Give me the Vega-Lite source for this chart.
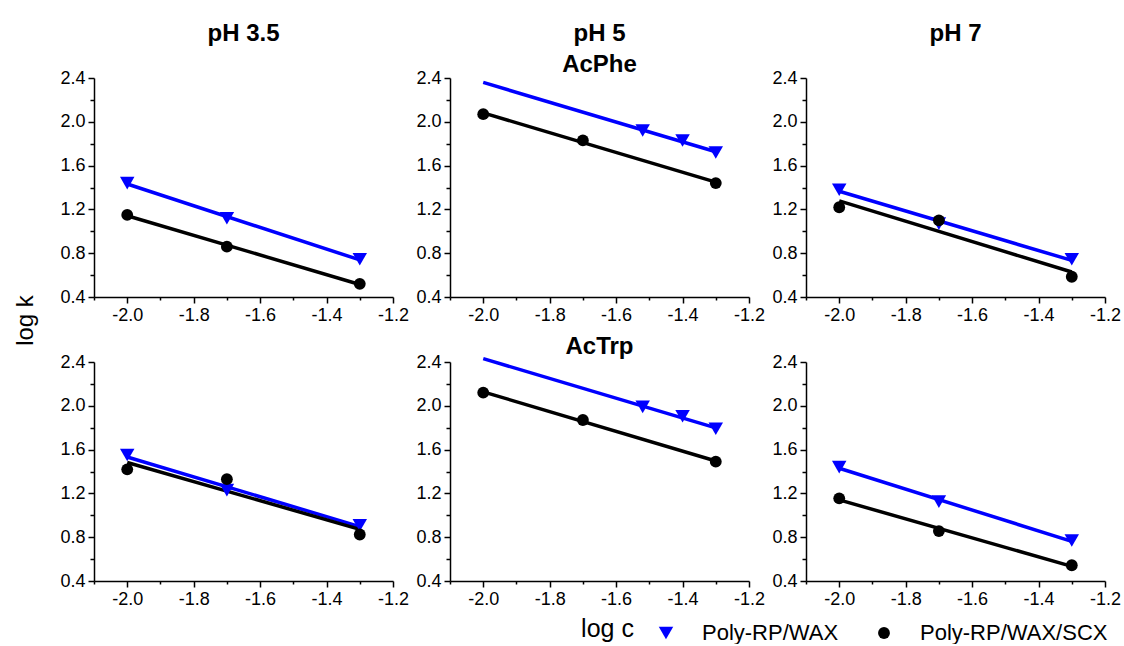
{
  "$schema": "https://vega.github.io/schema/vega-lite/v6.json",
  "padding": {"left": 13, "top": 22, "right": 0, "bottom": 0},
  "background": "white",
  "config": {
    "font": "Liberation Sans",
    "view": {"stroke": null},
    "axis": {
      "grid": false,
      "domainColor": "#000000",
      "domainWidth": 1.5,
      "tickColor": "#000000",
      "tickWidth": 1.5,
      "labelFont": "Liberation Sans",
      "labelFontSize": 18,
      "labelColor": "#000000",
      "labelPadding": 3,
      "labelFlush": false,
      "labelOverlap": false,
      "labelBound": false,
      "titleFont": "Liberation Sans",
      "titleColor": "#000000",
      "titleFontWeight": "normal"
    },
    "legend": {
      "labelFont": "Liberation Sans",
      "labelFontSize": 22,
      "labelColor": "#000000",
      "labelLimit": 400,
      "symbolSize": 150,
      "labelOffset": 25,
      "columnPadding": 34,
      "padding": 0,
      "symbolStrokeWidth": 0
    },
    "title": {
      "font": "Liberation Sans",
      "fontSize": 24,
      "fontWeight": "bold",
      "color": "#000000",
      "frame": "group",
      "anchor": "middle",
      "baseline": "alphabetic"
    }
  },
  "data": {
    "values": [
      {"panel": "AcPhe 3.5", "series": "Poly-RP/WAX", "x": -2.0, "y": 1.44},
      {"panel": "AcPhe 3.5", "series": "Poly-RP/WAX", "x": -1.7, "y": 1.12},
      {"panel": "AcPhe 3.5", "series": "Poly-RP/WAX", "x": -1.3, "y": 0.745},
      {"panel": "AcPhe 3.5", "series": "Poly-RP/WAX/SCX", "x": -2.0, "y": 1.15},
      {"panel": "AcPhe 3.5", "series": "Poly-RP/WAX/SCX", "x": -1.7, "y": 0.86},
      {"panel": "AcPhe 3.5", "series": "Poly-RP/WAX/SCX", "x": -1.3, "y": 0.52},
      {"panel": "AcPhe 5", "series": "Poly-RP/WAX", "x": -1.52, "y": 1.92},
      {"panel": "AcPhe 5", "series": "Poly-RP/WAX", "x": -1.40, "y": 1.83},
      {"panel": "AcPhe 5", "series": "Poly-RP/WAX", "x": -1.30, "y": 1.72},
      {"panel": "AcPhe 5", "series": "Poly-RP/WAX/SCX", "x": -2.0, "y": 2.07},
      {"panel": "AcPhe 5", "series": "Poly-RP/WAX/SCX", "x": -1.7, "y": 1.83},
      {"panel": "AcPhe 5", "series": "Poly-RP/WAX/SCX", "x": -1.3, "y": 1.44},
      {"panel": "AcPhe 7", "series": "Poly-RP/WAX", "x": -2.0, "y": 1.38},
      {"panel": "AcPhe 7", "series": "Poly-RP/WAX", "x": -1.7, "y": 1.07},
      {"panel": "AcPhe 7", "series": "Poly-RP/WAX", "x": -1.3, "y": 0.745},
      {"panel": "AcPhe 7", "series": "Poly-RP/WAX/SCX", "x": -2.0, "y": 1.22},
      {"panel": "AcPhe 7", "series": "Poly-RP/WAX/SCX", "x": -1.7, "y": 1.10},
      {"panel": "AcPhe 7", "series": "Poly-RP/WAX/SCX", "x": -1.3, "y": 0.585},
      {"panel": "AcTrp 3.5", "series": "Poly-RP/WAX", "x": -2.0, "y": 1.55},
      {"panel": "AcTrp 3.5", "series": "Poly-RP/WAX", "x": -1.7, "y": 1.23},
      {"panel": "AcTrp 3.5", "series": "Poly-RP/WAX", "x": -1.3, "y": 0.91},
      {"panel": "AcTrp 3.5", "series": "Poly-RP/WAX/SCX", "x": -2.0, "y": 1.42},
      {"panel": "AcTrp 3.5", "series": "Poly-RP/WAX/SCX", "x": -1.7, "y": 1.33},
      {"panel": "AcTrp 3.5", "series": "Poly-RP/WAX/SCX", "x": -1.3, "y": 0.825},
      {"panel": "AcTrp 5", "series": "Poly-RP/WAX", "x": -1.52, "y": 1.99},
      {"panel": "AcTrp 5", "series": "Poly-RP/WAX", "x": -1.40, "y": 1.905},
      {"panel": "AcTrp 5", "series": "Poly-RP/WAX", "x": -1.30, "y": 1.79},
      {"panel": "AcTrp 5", "series": "Poly-RP/WAX/SCX", "x": -2.0, "y": 2.12},
      {"panel": "AcTrp 5", "series": "Poly-RP/WAX/SCX", "x": -1.7, "y": 1.87},
      {"panel": "AcTrp 5", "series": "Poly-RP/WAX/SCX", "x": -1.3, "y": 1.49},
      {"panel": "AcTrp 7", "series": "Poly-RP/WAX", "x": -2.0, "y": 1.44},
      {"panel": "AcTrp 7", "series": "Poly-RP/WAX", "x": -1.7, "y": 1.125},
      {"panel": "AcTrp 7", "series": "Poly-RP/WAX", "x": -1.3, "y": 0.77},
      {"panel": "AcTrp 7", "series": "Poly-RP/WAX/SCX", "x": -2.0, "y": 1.155},
      {"panel": "AcTrp 7", "series": "Poly-RP/WAX/SCX", "x": -1.7, "y": 0.856},
      {"panel": "AcTrp 7", "series": "Poly-RP/WAX/SCX", "x": -1.3, "y": 0.544}
    ]
  },
  "columns": 3,
  "spacing": {"row": 65, "column": 57},
  "bounds": "flush",
  "concat": [
    {
      "width": 299, "height": 219,
      "title": {"text": "pH 3.5", "offset": 23},
      "transform": [{"filter": "datum.panel == 'AcPhe 3.5'"}],
      "encoding": {
        "x": {"field": "x", "type": "quantitative", "scale": {"domain": [-2.1, -1.2], "nice": false, "zero": false},
              "axis": {"title": null, "labelOverlap": false, "values": [-2.1, -2.0, -1.9, -1.8, -1.7, -1.6, -1.5, -1.4, -1.3, -1.2],
                       "labelExpr": "round(abs(datum.value)*10) % 2 == 1 ? '' : (datum.value < 0 ? '-' : '') + format(abs(datum.value), '.1f')",
                       "tickSize": {"condition": {"test": "round(abs(datum.value)*10) % 2 == 1", "value": 3}, "value": 6}}},
        "y": {"field": "y", "type": "quantitative", "scale": {"domain": [0.4, 2.4], "nice": false, "zero": false},
              "axis": {"title": null, "labelOverlap": false, "values": [0.4, 0.6, 0.8, 1.0, 1.2, 1.4, 1.6, 1.8, 2.0, 2.2, 2.4],
                       "labelExpr": "round(datum.value*10) % 4 == 2 ? '' : format(datum.value, '.1f')",
                       "tickSize": {"condition": {"test": "round(datum.value*10) % 4 == 2", "value": 4}, "value": 6}}}
      },
      "layer": [
        {"transform": [{"filter": "datum.series == 'Poly-RP/WAX'"}, {"regression": "y", "on": "x", "extent": [-2.0, -1.3]}],
         "mark": {"type": "line", "strokeWidth": 3.5, "color": "#0000ff"}},
        {"transform": [{"filter": "datum.series == 'Poly-RP/WAX/SCX'"}, {"regression": "y", "on": "x", "extent": [-2.0, -1.3]}],
         "mark": {"type": "line", "strokeWidth": 3.5, "color": "#000000"}},
        {
          "mark": {"type": "point", "filled": true, "opacity": 1},
          "encoding": {
            "color": {"field": "series", "type": "nominal", "scale": {"domain": ["Poly-RP/WAX", "Poly-RP/WAX/SCX"], "range": ["#0000ff", "#000000"]},
                      "legend": {"orient": "none", "legendX": 561, "legendY": 544, "direction": "horizontal", "title": null}},
            "shape": {"field": "series", "type": "nominal", "scale": {"domain": ["Poly-RP/WAX", "Poly-RP/WAX/SCX"], "range": ["triangle-down", "circle"]},
                      "legend": {"orient": "none", "legendX": 561, "legendY": 544, "direction": "horizontal", "title": null}},
            "size": {"field": "series", "type": "ordinal", "scale": {"domain": ["Poly-RP/WAX", "Poly-RP/WAX/SCX"], "range": [210, 140]}, "legend": null}
          }
        }
      ]
    },
    {
      "width": 299, "height": 219,
      "title": {"text": ["pH 5", "AcPhe"], "lineHeight": 31, "offset": -8},
      "transform": [{"filter": "datum.panel == 'AcPhe 5'"}],
      "encoding": {
        "x": {"field": "x", "type": "quantitative", "scale": {"domain": [-2.1, -1.2], "nice": false, "zero": false},
              "axis": {"title": null, "labelOverlap": false, "values": [-2.1, -2.0, -1.9, -1.8, -1.7, -1.6, -1.5, -1.4, -1.3, -1.2],
                       "labelExpr": "round(abs(datum.value)*10) % 2 == 1 ? '' : (datum.value < 0 ? '-' : '') + format(abs(datum.value), '.1f')",
                       "tickSize": {"condition": {"test": "round(abs(datum.value)*10) % 2 == 1", "value": 3}, "value": 6}}},
        "y": {"field": "y", "type": "quantitative", "scale": {"domain": [0.4, 2.4], "nice": false, "zero": false},
              "axis": {"title": null, "labelOverlap": false, "values": [0.4, 0.6, 0.8, 1.0, 1.2, 1.4, 1.6, 1.8, 2.0, 2.2, 2.4],
                       "labelExpr": "round(datum.value*10) % 4 == 2 ? '' : format(datum.value, '.1f')",
                       "tickSize": {"condition": {"test": "round(datum.value*10) % 4 == 2", "value": 4}, "value": 6}}}
      },
      "layer": [
        {"transform": [{"filter": "datum.series == 'Poly-RP/WAX'"}, {"regression": "y", "on": "x", "extent": [-2.0, -1.3]}],
         "mark": {"type": "line", "strokeWidth": 3.5, "color": "#0000ff"}},
        {"transform": [{"filter": "datum.series == 'Poly-RP/WAX/SCX'"}, {"regression": "y", "on": "x", "extent": [-2.0, -1.3]}],
         "mark": {"type": "line", "strokeWidth": 3.5, "color": "#000000"}},
        {
          "mark": {"type": "point", "filled": true, "opacity": 1},
          "encoding": {
            "color": {"field": "series", "type": "nominal", "scale": {"domain": ["Poly-RP/WAX", "Poly-RP/WAX/SCX"], "range": ["#0000ff", "#000000"]},
                      "legend": {"orient": "none", "legendX": 561, "legendY": 544, "direction": "horizontal", "title": null}},
            "shape": {"field": "series", "type": "nominal", "scale": {"domain": ["Poly-RP/WAX", "Poly-RP/WAX/SCX"], "range": ["triangle-down", "circle"]},
                      "legend": {"orient": "none", "legendX": 561, "legendY": 544, "direction": "horizontal", "title": null}},
            "size": {"field": "series", "type": "ordinal", "scale": {"domain": ["Poly-RP/WAX", "Poly-RP/WAX/SCX"], "range": [210, 140]}, "legend": null}
          }
        }
      ]
    },
    {
      "width": 299, "height": 219,
      "title": {"text": "pH 7", "offset": 23},
      "transform": [{"filter": "datum.panel == 'AcPhe 7'"}],
      "encoding": {
        "x": {"field": "x", "type": "quantitative", "scale": {"domain": [-2.1, -1.2], "nice": false, "zero": false},
              "axis": {"title": null, "labelOverlap": false, "values": [-2.1, -2.0, -1.9, -1.8, -1.7, -1.6, -1.5, -1.4, -1.3, -1.2],
                       "labelExpr": "round(abs(datum.value)*10) % 2 == 1 ? '' : (datum.value < 0 ? '-' : '') + format(abs(datum.value), '.1f')",
                       "tickSize": {"condition": {"test": "round(abs(datum.value)*10) % 2 == 1", "value": 3}, "value": 6}}},
        "y": {"field": "y", "type": "quantitative", "scale": {"domain": [0.4, 2.4], "nice": false, "zero": false},
              "axis": {"title": null, "labelOverlap": false, "values": [0.4, 0.6, 0.8, 1.0, 1.2, 1.4, 1.6, 1.8, 2.0, 2.2, 2.4],
                       "labelExpr": "round(datum.value*10) % 4 == 2 ? '' : format(datum.value, '.1f')",
                       "tickSize": {"condition": {"test": "round(datum.value*10) % 4 == 2", "value": 4}, "value": 6}}}
      },
      "layer": [
        {"transform": [{"filter": "datum.series == 'Poly-RP/WAX'"}, {"regression": "y", "on": "x", "extent": [-2.0, -1.3]}],
         "mark": {"type": "line", "strokeWidth": 3.5, "color": "#0000ff"}},
        {"transform": [{"filter": "datum.series == 'Poly-RP/WAX/SCX'"}, {"regression": "y", "on": "x", "extent": [-2.0, -1.3]}],
         "mark": {"type": "line", "strokeWidth": 3.5, "color": "#000000"}},
        {
          "mark": {"type": "point", "filled": true, "opacity": 1},
          "encoding": {
            "color": {"field": "series", "type": "nominal", "scale": {"domain": ["Poly-RP/WAX", "Poly-RP/WAX/SCX"], "range": ["#0000ff", "#000000"]},
                      "legend": {"orient": "none", "legendX": 561, "legendY": 544, "direction": "horizontal", "title": null}},
            "shape": {"field": "series", "type": "nominal", "scale": {"domain": ["Poly-RP/WAX", "Poly-RP/WAX/SCX"], "range": ["triangle-down", "circle"]},
                      "legend": {"orient": "none", "legendX": 561, "legendY": 544, "direction": "horizontal", "title": null}},
            "size": {"field": "series", "type": "ordinal", "scale": {"domain": ["Poly-RP/WAX", "Poly-RP/WAX/SCX"], "range": [210, 140]}, "legend": null}
          }
        }
      ]
    },
    {
      "width": 299, "height": 219,
      "transform": [{"filter": "datum.panel == 'AcTrp 3.5'"}],
      "encoding": {
        "x": {"field": "x", "type": "quantitative", "scale": {"domain": [-2.1, -1.2], "nice": false, "zero": false},
              "axis": {"title": null, "labelOverlap": false, "values": [-2.1, -2.0, -1.9, -1.8, -1.7, -1.6, -1.5, -1.4, -1.3, -1.2],
                       "labelExpr": "round(abs(datum.value)*10) % 2 == 1 ? '' : (datum.value < 0 ? '-' : '') + format(abs(datum.value), '.1f')",
                       "tickSize": {"condition": {"test": "round(abs(datum.value)*10) % 2 == 1", "value": 3}, "value": 6}}},
        "y": {"field": "y", "type": "quantitative", "scale": {"domain": [0.4, 2.4], "nice": false, "zero": false},
              "axis": {"title": "log k", "titleX": -62, "titleY": -42, "titleAngle": -90, "titleBaseline": "alphabetic", "titleAlign": "center", "titleFontSize": 24,
                       "labelOverlap": false, "values": [0.4, 0.6, 0.8, 1.0, 1.2, 1.4, 1.6, 1.8, 2.0, 2.2, 2.4],
                       "labelExpr": "round(datum.value*10) % 4 == 2 ? '' : format(datum.value, '.1f')",
                       "tickSize": {"condition": {"test": "round(datum.value*10) % 4 == 2", "value": 4}, "value": 6}}}
      },
      "layer": [
        {"transform": [{"filter": "datum.series == 'Poly-RP/WAX'"}, {"regression": "y", "on": "x", "extent": [-2.0, -1.3]}],
         "mark": {"type": "line", "strokeWidth": 3.5, "color": "#0000ff"}},
        {"transform": [{"filter": "datum.series == 'Poly-RP/WAX/SCX'"}, {"regression": "y", "on": "x", "extent": [-2.0, -1.3]}],
         "mark": {"type": "line", "strokeWidth": 3.5, "color": "#000000"}},
        {
          "mark": {"type": "point", "filled": true, "opacity": 1},
          "encoding": {
            "color": {"field": "series", "type": "nominal", "scale": {"domain": ["Poly-RP/WAX", "Poly-RP/WAX/SCX"], "range": ["#0000ff", "#000000"]},
                      "legend": {"orient": "none", "legendX": 561, "legendY": 544, "direction": "horizontal", "title": null}},
            "shape": {"field": "series", "type": "nominal", "scale": {"domain": ["Poly-RP/WAX", "Poly-RP/WAX/SCX"], "range": ["triangle-down", "circle"]},
                      "legend": {"orient": "none", "legendX": 561, "legendY": 544, "direction": "horizontal", "title": null}},
            "size": {"field": "series", "type": "ordinal", "scale": {"domain": ["Poly-RP/WAX", "Poly-RP/WAX/SCX"], "range": [210, 140]}, "legend": null}
          }
        }
      ]
    },
    {
      "width": 299, "height": 219,
      "title": {"text": "AcTrp", "offset": -7},
      "transform": [{"filter": "datum.panel == 'AcTrp 5'"}],
      "encoding": {
        "x": {"field": "x", "type": "quantitative", "scale": {"domain": [-2.1, -1.2], "nice": false, "zero": false},
              "axis": {"title": "log c", "titleX": 157, "titleY": 55, "titleBaseline": "alphabetic", "titleAlign": "center", "titleFontSize": 25,
                       "labelOverlap": false, "values": [-2.1, -2.0, -1.9, -1.8, -1.7, -1.6, -1.5, -1.4, -1.3, -1.2],
                       "labelExpr": "round(abs(datum.value)*10) % 2 == 1 ? '' : (datum.value < 0 ? '-' : '') + format(abs(datum.value), '.1f')",
                       "tickSize": {"condition": {"test": "round(abs(datum.value)*10) % 2 == 1", "value": 3}, "value": 6}}},
        "y": {"field": "y", "type": "quantitative", "scale": {"domain": [0.4, 2.4], "nice": false, "zero": false},
              "axis": {"title": null, "labelOverlap": false, "values": [0.4, 0.6, 0.8, 1.0, 1.2, 1.4, 1.6, 1.8, 2.0, 2.2, 2.4],
                       "labelExpr": "round(datum.value*10) % 4 == 2 ? '' : format(datum.value, '.1f')",
                       "tickSize": {"condition": {"test": "round(datum.value*10) % 4 == 2", "value": 4}, "value": 6}}}
      },
      "layer": [
        {"transform": [{"filter": "datum.series == 'Poly-RP/WAX'"}, {"regression": "y", "on": "x", "extent": [-2.0, -1.3]}],
         "mark": {"type": "line", "strokeWidth": 3.5, "color": "#0000ff"}},
        {"transform": [{"filter": "datum.series == 'Poly-RP/WAX/SCX'"}, {"regression": "y", "on": "x", "extent": [-2.0, -1.3]}],
         "mark": {"type": "line", "strokeWidth": 3.5, "color": "#000000"}},
        {
          "mark": {"type": "point", "filled": true, "opacity": 1},
          "encoding": {
            "color": {"field": "series", "type": "nominal", "scale": {"domain": ["Poly-RP/WAX", "Poly-RP/WAX/SCX"], "range": ["#0000ff", "#000000"]},
                      "legend": {"orient": "none", "legendX": 561, "legendY": 544, "direction": "horizontal", "title": null}},
            "shape": {"field": "series", "type": "nominal", "scale": {"domain": ["Poly-RP/WAX", "Poly-RP/WAX/SCX"], "range": ["triangle-down", "circle"]},
                      "legend": {"orient": "none", "legendX": 561, "legendY": 544, "direction": "horizontal", "title": null}},
            "size": {"field": "series", "type": "ordinal", "scale": {"domain": ["Poly-RP/WAX", "Poly-RP/WAX/SCX"], "range": [210, 140]}, "legend": null}
          }
        }
      ]
    },
    {
      "width": 299, "height": 219,
      "transform": [{"filter": "datum.panel == 'AcTrp 7'"}],
      "encoding": {
        "x": {"field": "x", "type": "quantitative", "scale": {"domain": [-2.1, -1.2], "nice": false, "zero": false},
              "axis": {"title": null, "labelOverlap": false, "values": [-2.1, -2.0, -1.9, -1.8, -1.7, -1.6, -1.5, -1.4, -1.3, -1.2],
                       "labelExpr": "round(abs(datum.value)*10) % 2 == 1 ? '' : (datum.value < 0 ? '-' : '') + format(abs(datum.value), '.1f')",
                       "tickSize": {"condition": {"test": "round(abs(datum.value)*10) % 2 == 1", "value": 3}, "value": 6}}},
        "y": {"field": "y", "type": "quantitative", "scale": {"domain": [0.4, 2.4], "nice": false, "zero": false},
              "axis": {"title": null, "labelOverlap": false, "values": [0.4, 0.6, 0.8, 1.0, 1.2, 1.4, 1.6, 1.8, 2.0, 2.2, 2.4],
                       "labelExpr": "round(datum.value*10) % 4 == 2 ? '' : format(datum.value, '.1f')",
                       "tickSize": {"condition": {"test": "round(datum.value*10) % 4 == 2", "value": 4}, "value": 6}}}
      },
      "layer": [
        {"transform": [{"filter": "datum.series == 'Poly-RP/WAX'"}, {"regression": "y", "on": "x", "extent": [-2.0, -1.3]}],
         "mark": {"type": "line", "strokeWidth": 3.5, "color": "#0000ff"}},
        {"transform": [{"filter": "datum.series == 'Poly-RP/WAX/SCX'"}, {"regression": "y", "on": "x", "extent": [-2.0, -1.3]}],
         "mark": {"type": "line", "strokeWidth": 3.5, "color": "#000000"}},
        {
          "mark": {"type": "point", "filled": true, "opacity": 1},
          "encoding": {
            "color": {"field": "series", "type": "nominal", "scale": {"domain": ["Poly-RP/WAX", "Poly-RP/WAX/SCX"], "range": ["#0000ff", "#000000"]},
                      "legend": {"orient": "none", "legendX": 561, "legendY": 544, "direction": "horizontal", "title": null}},
            "shape": {"field": "series", "type": "nominal", "scale": {"domain": ["Poly-RP/WAX", "Poly-RP/WAX/SCX"], "range": ["triangle-down", "circle"]},
                      "legend": {"orient": "none", "legendX": 561, "legendY": 544, "direction": "horizontal", "title": null}},
            "size": {"field": "series", "type": "ordinal", "scale": {"domain": ["Poly-RP/WAX", "Poly-RP/WAX/SCX"], "range": [210, 140]}, "legend": null}
          }
        }
      ]
    }
  ]
}
